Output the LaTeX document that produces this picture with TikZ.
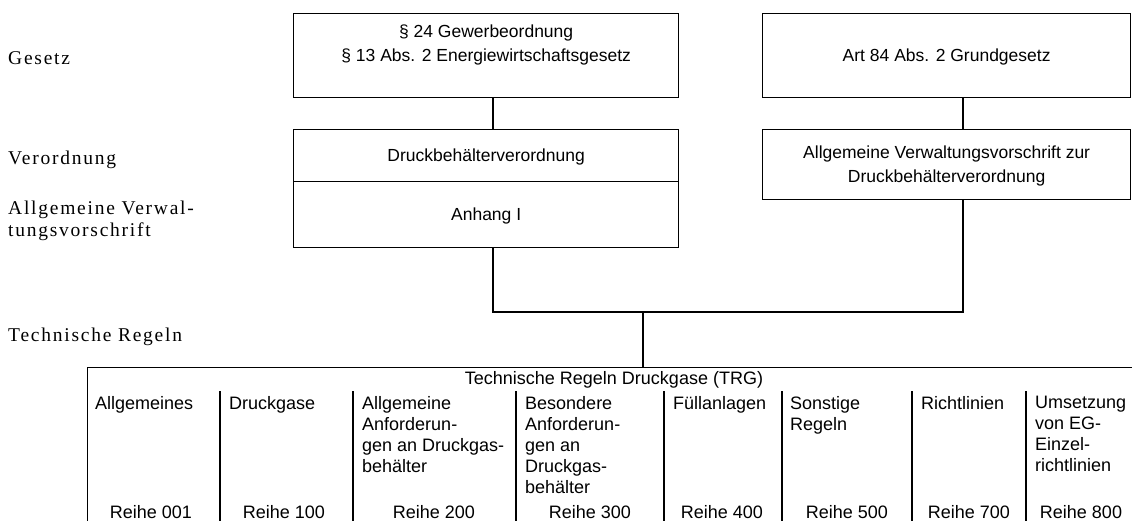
\documentclass[tikz,border=0pt]{standalone}
\usepackage{fontspec}
\setmainfont{Liberation Sans}
\newfontfamily\lblfont[LetterSpace=9]{Liberation Serif}
\begin{document}
\begin{tikzpicture}[x=1pt,y=-1pt,
  box/.style={draw, line width=1.3pt, inner sep=0pt, anchor=north west, align=center, text depth=0pt,
    font=\fontsize{17.5}{24}\selectfont},
  lbl/.style={anchor=base west, align=left, inner sep=0pt, font=\lblfont\fontsize{19.5}{22}\selectfont},
  head/.style={anchor=north west, align=left, inner sep=0pt, font=\fontsize{18}{21}\selectfont},
  reihe/.style={anchor=center, inner sep=0pt, font=\fontsize{18}{21}\selectfont},
  conn/.style={line width=1.3pt}]
\useasboundingbox (0,0) rectangle (1132,520);
\clip (0,0) rectangle (1132,520);
\fill[white] (0,0) rectangle (1132,520);

% left labels
\node[lbl] (lgesetz) at (8,64) {Gesetz};
\node[lbl] (lvo) at (8,164) {Verordnung};
\node[lbl] (lavv1) at (8,214) {Allgemeine Verwal-};
\node[lbl] (lavv2) at (8,236) {tungsvorschrift};
\node[lbl] (ltr) at (8,341) {Technische Regeln};

% boxes
\node[box, minimum width=385pt, minimum height=84pt] (gw) at (293,13)
  {§ 24 Gewerbeordnung\\§ 13 Abs. 2 Energiewirtschaftsgesetz\\\mbox{}};
\node[box, minimum width=368pt, minimum height=84pt] (art) at (762,13)
  {Art 84 Abs. 2 Grundgesetz};
\node[box, minimum width=385pt, minimum height=52pt] (db) at (293,129)
  {Druckbehälterverordnung};
\node[box, minimum width=385pt, minimum height=66pt] (anh) at (293,181)
  {Anhang I};
\node[box, minimum width=368pt, minimum height=70pt] (avv) at (762,129)
  {Allgemeine Verwaltungsvorschrift zur\\Druckbehälterverordnung};

% table frame
\node[draw, line width=1.3pt, anchor=north west, inner sep=0pt,
  minimum width=1060pt, minimum height=170pt] (trg) at (87,367) {};
\node[anchor=base, inner sep=0pt, font=\fontsize{18}{21}\selectfont] (trgtitle) at (614,384)
  {Technische Regeln Druckgase (TRG)};

% connectors
\coordinate (cL) at (493,0);
\coordinate (cR) at (963,0);
\coordinate (cM) at (643,0);
\coordinate (jy) at (0,312);
\draw[conn] (gw.south -| cL) -- (db.north -| cL);
\draw[conn] (art.south -| cR) -- (avv.north -| cR);
\draw[conn] (anh.south -| cL) -- (cL |- jy) -- (cR |- jy) -- (avv.south -| cR);
\draw[conn] (cM |- jy) -- (trg.north -| cM);

% column dividers
\foreach \x in {220,353,516,664,782,912,1026}
  \draw[conn] (\x,391) -- (\x,522);

% column headers
\node[head] (h1) at (95,396) {Allgemeines};
\node[head] (h2) at (229,396) {Druckgase};
\node[head] (h3) at (362,396) {Allgemeine\\Anforderun-\\gen an Druckgas-\\behälter};
\node[head] (h4) at (525,396) {Besondere\\Anforderun-\\gen an\\Druckgas-\\behälter};
\node[head] (h5) at (673,396) {Füllanlagen};
\node[head] (h6) at (790,396) {Sonstige\\Regeln};
\node[head] (h7) at (921,396) {Richtlinien};
\node[head] (h8) at (1035,396) {Umsetzung\\von EG-\\Einzel-\\richtlinien};

% series labels
\node[reihe] (r1) at (151,512) {Reihe 001};
\node[reihe] (r2) at (284,512) {Reihe 100};
\node[reihe] (r3) at (434,512) {Reihe 200};
\node[reihe] (r4) at (590,512) {Reihe 300};
\node[reihe] (r5) at (722,512) {Reihe 400};
\node[reihe] (r6) at (847,512) {Reihe 500};
\node[reihe] (r7) at (969,512) {Reihe 700};
\node[reihe] (r8) at (1081,512) {Reihe 800};
\end{tikzpicture}
\end{document}
